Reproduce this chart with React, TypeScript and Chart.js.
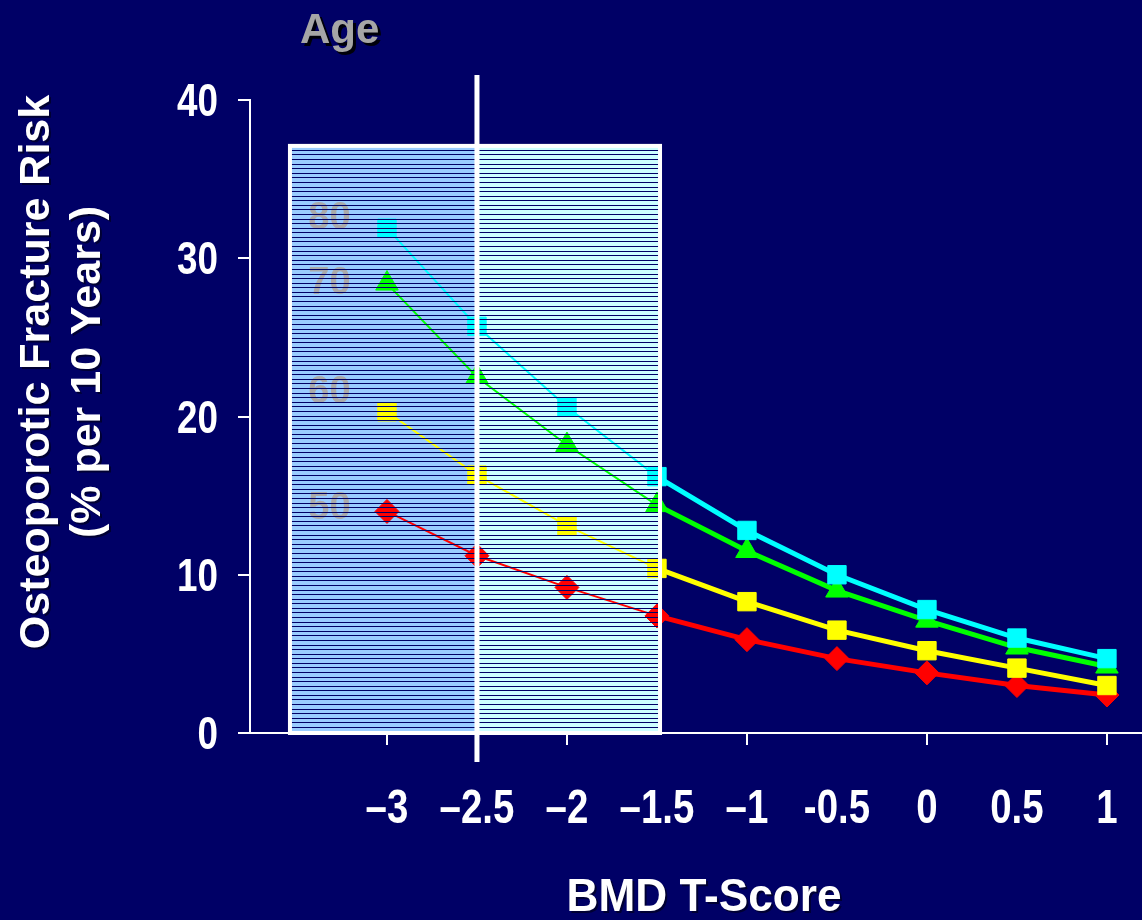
import React, { useEffect, useRef } from 'react';
import { Chart, registerables } from 'chart.js';

Chart.register(...registerables);

// ---- data ----
const xValues = [-3, -2.5, -2, -1.5, -1, -0.5, 0, 0.5, 1];
const age80 = [31.9, 25.7, 20.6, 16.2, 12.8, 10.0, 7.8, 6.0, 4.7];
const age70 = [28.4, 22.5, 18.2, 14.4, 11.5, 9.0, 7.1, 5.4, 4.2];
const age60 = [20.3, 16.3, 13.1, 10.4, 8.3, 6.5, 5.2, 4.1, 3.0];
const age50 = [14.0, 11.2, 9.2, 7.4, 5.9, 4.7, 3.8, 3.0, 2.4];
const xTickValues = [-3, -2.5, -2, -1.5, -1, -0.5, 0, 0.5, 1];
const xTickLabels = ['\u20133', '\u20132.5', '\u20132', '\u20131.5', '\u20131', '-0.5', '0', '0.5', '1'];
const yTickValues = [0, 10, 20, 30, 40];
const yTickLabels = ['0', '10', '20', '30', '40'];
const ageNames = ['80', '70', '60', '50'];
const ageLabelValues = [32.5, 28.4, 21.5, 14.2];

// ---- layout / style constants ----
const W = 1142;
const H = 920;
const NAVY = '#000066';
const X_MIN = -3.761;
const X_MAX = 1.117;
const RECT_LEFT = -3.539;
const RECT_RIGHT = -1.483;
const RECT_TOP = 37.1;
const SPLIT_X = -2.5;
const AGE_LABEL_X = -3.32;
const SANS = '"Liberation Sans", Arial, Helvetica, sans-serif';

function drawScaledText(ctx: any, text: string, x: number, y: number, align: string, sx: number) {
  ctx.save();
  ctx.translate(x, y);
  ctx.scale(sx, 1);
  ctx.textAlign = align;
  ctx.fillText(text, 0, 0);
  ctx.restore();
}

const overlayPlugin = {
  id: 'overlay',
  beforeDatasetsDraw(chart: any) {
    const { ctx, scales } = chart;
    const x = scales.x;
    const y = scales.y;
    const xl = x.getPixelForValue(RECT_LEFT);
    const xm = x.getPixelForValue(SPLIT_X);
    const xr = x.getPixelForValue(RECT_RIGHT);
    const yt = y.getPixelForValue(RECT_TOP);
    const yb = y.getPixelForValue(0);
    ctx.save();
    ctx.fillStyle = '#99ccff';
    ctx.fillRect(xl, yt, xm - xl, yb - yt);
    ctx.fillStyle = '#ccffff';
    ctx.fillRect(xm, yt, xr - xm, yb - yt);
    ctx.font = `bold 38px ${SANS}`;
    ctx.fillStyle = '#aaaaaa';
    ctx.textAlign = 'center';
    ctx.textBaseline = 'middle';
    ageNames.forEach((n, i) => {
      ctx.fillText(n, x.getPixelForValue(AGE_LABEL_X), y.getPixelForValue(ageLabelValues[i]));
    });
    ctx.restore();
  },
  afterDatasetsDraw(chart: any) {
    const { ctx, scales } = chart;
    const x = scales.x;
    const y = scales.y;
    const xl = x.getPixelForValue(RECT_LEFT);
    const xm = x.getPixelForValue(SPLIT_X);
    const xr = x.getPixelForValue(RECT_RIGHT);
    const yt = y.getPixelForValue(RECT_TOP);
    const yb = y.getPixelForValue(0);
    ctx.save();
    // venetian-blind hatching
    ctx.fillStyle = NAVY;
    for (let yy = yt + 4; yy < yb - 2; yy += 4.58) {
      ctx.fillRect(xl, Math.round(yy), xr - xl, 1);
    }
    // white frame
    ctx.strokeStyle = '#ffffff';
    ctx.lineWidth = 4;
    ctx.strokeRect(xl, yt, xr - xl, yb - yt);
    // T-score -2.5 threshold line
    const top = y.getPixelForValue(40) - 25;
    ctx.fillStyle = '#ffffff';
    ctx.fillRect(xm - 2.5, top, 5, yb + 29 - top);
    ctx.restore();
  },
  afterDraw(chart: any) {
    const { ctx, chartArea, scales, width } = chart;
    const x = scales.x;
    const y = scales.y;
    ctx.save();
    // x axis line continues left of the y axis and out to the right edge
    ctx.fillStyle = '#ffffff';
    ctx.fillRect(chartArea.left - 12, chartArea.bottom - 1, 12, 2);
    ctx.fillRect(chartArea.right, chartArea.bottom - 1, width - chartArea.right, 2);

    // tick labels (condensed bold)
    ctx.fillStyle = '#ffffff';
    ctx.font = `bold 48px ${SANS}`;
    ctx.textBaseline = 'alphabetic';
    xTickValues.forEach((v, i) => {
      drawScaledText(ctx, xTickLabels[i], x.getPixelForValue(v), chartArea.bottom + 90, 'center', 0.8);
    });
    ctx.font = `bold 46px ${SANS}`;
    yTickValues.forEach((v, i) => {
      drawScaledText(ctx, yTickLabels[i], chartArea.left - 32, y.getPixelForValue(v) + 16, 'right', 0.8);
    });

    // "Age"
    ctx.font = `bold 42px ${SANS}`;
    ctx.textAlign = 'left';
    ctx.shadowColor = 'rgba(0,0,0,0.9)';
    ctx.shadowOffsetX = 3;
    ctx.shadowOffsetY = 3;
    ctx.fillStyle = '#a6a6a6';
    ctx.fillText('Age', 300, 43);

    // Y title
    ctx.shadowColor = 'rgba(0,0,0,0.5)';
    ctx.shadowOffsetX = 2;
    ctx.shadowOffsetY = 2;
    ctx.fillStyle = '#ffffff';
    ctx.font = `bold 43px ${SANS}`;
    ctx.textAlign = 'center';
    const cy = 372;
    ctx.save();
    ctx.translate(49, cy);
    ctx.rotate(-Math.PI / 2);
    ctx.fillText('Osteoporotic Fracture Risk', 0, 0);
    ctx.restore();
    ctx.save();
    ctx.translate(100, cy);
    ctx.rotate(-Math.PI / 2);
    ctx.fillText('(% per 10 Years)', 0, 0);
    ctx.restore();

    // X title
    ctx.font = `bold 47px ${SANS}`;
    drawScaledText(ctx, 'BMD T-Score', 704, chartArea.bottom + 178, 'center', 0.94);
    ctx.restore();
  },
};

export default function App() {
  const ref = useRef<HTMLCanvasElement | null>(null);

  useEffect(() => {
    const canvas = ref.current;
    if (!canvas) return;
    const toPts = (vals: number[]) => xValues.map((xv, i) => ({ x: xv, y: vals[i] }));
    const series = [
      { label: '80', vals: age80, color: '#00ffff', style: 'rect', r: 13 },
      { label: '60', vals: age60, color: '#ffff00', style: 'rect', r: 13 },
      { label: '70', vals: age70, color: '#00ff00', style: 'triangle', r: 13 },
      { label: '50', vals: age50, color: '#ff0000', style: 'rectRot', r: 12 },
    ];
    const chart = new Chart(canvas, {
      type: 'line',
      data: {
        datasets: series.map((s) => ({
          label: s.label,
          data: toPts(s.vals),
          borderColor: s.color,
          backgroundColor: s.color,
          borderWidth: 5,
          pointStyle: s.style as any,
          pointRadius: s.r,
          pointBorderWidth: 1,
          pointBackgroundColor: s.color,
          pointBorderColor: s.color,
          tension: 0,
          segment: {
            borderWidth: (ctx: any) => (ctx.p0.parsed.x < -1.5 - 1e-9 ? 2 : 5),
          },
        })),
      },
      options: {
        responsive: false,
        devicePixelRatio: 1,
        animation: false,
        layout: { padding: { top: 100, right: 0, bottom: 0, left: 0 } },
        plugins: {
          legend: { display: false },
          tooltip: { enabled: false },
          title: { display: false },
        },
        scales: {
          x: {
            type: 'linear',
            min: X_MIN,
            max: X_MAX,
            afterBuildTicks: (scale: any) => {
              scale.ticks = xTickValues.map((v) => ({ value: v }));
            },
            afterFit: (scale: any) => {
              scale.height = 187;
            },
            ticks: { display: false },
            grid: {
              drawOnChartArea: false,
              drawTicks: true,
              tickLength: 12,
              lineWidth: 2,
              tickColor: (ctx: any) =>
                ctx.tick && Number.isInteger(ctx.tick.value) ? '#ffffff' : 'rgba(0,0,0,0)',
            },
            border: { display: true, color: '#ffffff', width: 2 },
          },
          y: {
            min: 0,
            max: 40,
            afterBuildTicks: (scale: any) => {
              scale.ticks = yTickValues.map((v) => ({ value: v }));
            },
            afterFit: (scale: any) => {
              scale.width = 250;
            },
            ticks: { display: false },
            grid: {
              drawOnChartArea: false,
              drawTicks: true,
              tickLength: 12,
              lineWidth: 2,
              tickColor: '#ffffff',
            },
            border: { display: true, color: '#ffffff', width: 2 },
          },
        },
      },
      plugins: [overlayPlugin],
    });
    return () => chart.destroy();
  }, []);

  return (
    <div style={{ position: 'fixed', left: 0, top: 0, width: W, height: H, background: NAVY }}>
      <canvas ref={ref} width={W} height={H} style={{ display: 'block', width: W, height: H }} />
    </div>
  );
}
